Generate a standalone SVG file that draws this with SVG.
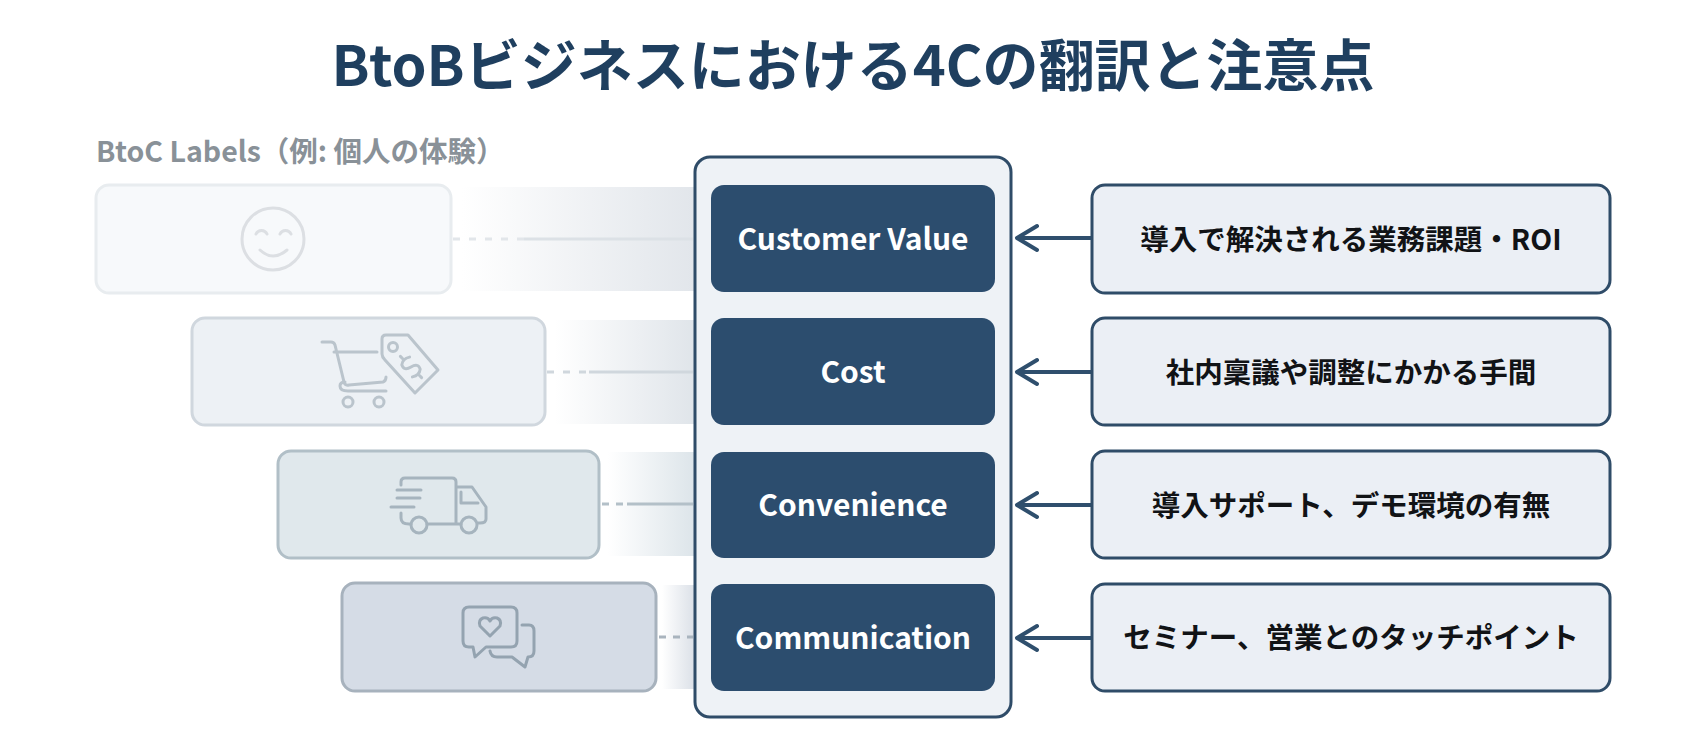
<svg xmlns="http://www.w3.org/2000/svg" width="1706" height="735" viewBox="0 0 1706 735">
<style>
text{font-family:"Noto Sans CJK JP","Noto Sans",sans-serif;font-weight:700;text-anchor:middle}
.title{font-size:56px;fill:#1f3f5f}
.sub{font-size:28.5px;fill:#899198;text-anchor:start;font-weight:700}
.cat{font-size:30px;fill:#fff}
.desc{font-size:28.5px;fill:#111316}
.dark{fill:#2c4d6e}
.right{fill:#ebeff5;stroke:#2f4c68;stroke-width:3}
.ic{fill:none;stroke-linecap:round;stroke-linejoin:round;stroke-width:3}
.arrow{fill:none;stroke:#2f4f6d;stroke-width:4;stroke-linecap:round;stroke-linejoin:round}
</style>
<defs>
<linearGradient id="b1" gradientUnits="userSpaceOnUse" x1="462" x2="694" y1="0" y2="0"><stop offset="0" stop-color="#fff"/><stop offset="1" stop-color="#e2e6eb"/></linearGradient>
<linearGradient id="b2" gradientUnits="userSpaceOnUse" x1="555" x2="694" y1="0" y2="0"><stop offset="0" stop-color="#fff"/><stop offset="1" stop-color="#e0e5ea"/></linearGradient>
<linearGradient id="b3" gradientUnits="userSpaceOnUse" x1="608" x2="694" y1="0" y2="0"><stop offset="0" stop-color="#fff"/><stop offset="1" stop-color="#dde5ea"/></linearGradient>
<linearGradient id="b4" gradientUnits="userSpaceOnUse" x1="662" x2="694" y1="0" y2="0"><stop offset="0" stop-color="#fff"/><stop offset="1" stop-color="#dce1e8"/></linearGradient>
</defs>
<rect width="1706" height="735" fill="#fff"/>
<text id="title" class="title" x="853" y="86">BtoBビジネスにおける4Cの翻訳と注意点</text>
<text id="subtitle" class="sub" x="96" y="162">BtoC Labels（例: 個人の体験）</text>

<g id="bands">
<rect x="462" y="187" width="232" height="104" fill="url(#b1)"/>
<rect x="555" y="320" width="139" height="104" fill="url(#b2)"/>
<rect x="608" y="452" width="86" height="104" fill="url(#b3)"/>
<rect x="662" y="585" width="32" height="104" fill="url(#b4)"/>
</g>

<g id="panel"><rect x="695" y="157" width="316" height="560" rx="15" fill="#eef2f6" stroke="#2f4c68" stroke-width="3"/></g>

<g id="connectors">
<g fill="none" stroke-width="3">
<path d="M453 239H524" stroke="#e2e6ea" stroke-dasharray="7 9"/><path d="M524 239H693" stroke="#dce1e6"/>
<path d="M547 372H589" stroke="#d0d7dd" stroke-dasharray="7 9"/><path d="M589 372H693" stroke="#d0d7dd"/>
<path d="M602 504H627" stroke="#b3c0c8" stroke-dasharray="7 7"/><path d="M627 504H693" stroke="#b3c0c8"/>
<path d="M659 637H693" stroke="#a9b4be" stroke-dasharray="7 7"/>
</g>
<g class="arrow">
<path d="M1091 238H1017M1037 226L1017 238L1037 250"/>
<path d="M1091 372H1017M1037 360L1017 372L1037 384"/>
<path d="M1091 505H1017M1037 493L1017 505L1037 517"/>
<path d="M1091 638H1017M1037 626L1017 638L1037 650"/>
</g>
</g>

<g id="btoc-value">
<rect x="96" y="185" width="355" height="108" rx="13" fill="#f7f9fb" stroke="#e8ecef" stroke-width="3"/>
<g class="ic" stroke="#dcdfe3"><circle cx="273" cy="239" r="31"/><path d="M256 234a6 6 0 0 1 11 0M280 234a6 6 0 0 1 11 0M260 250q13 12 27 0"/></g>
</g>
<g id="btoc-cost">
<rect x="192" y="318" width="353" height="107" rx="13" fill="#edf1f5" stroke="#d0d7de" stroke-width="3"/>
<g class="ic" stroke="#bac4cc"><path d="M322 342H331Q334 342 335 345L344 382Q345 386 349 385L383 382Q386 381 386 377M334 352H377M386 391H348Q340 391 340 386Q340 382 345 382"/><circle cx="348" cy="402" r="5"/><circle cx="379" cy="402" r="5"/>
<path d="M386 335H408L438 370L415 393L385 360Q382 357 382 354V339Q382 335 386 335Z"/><circle cx="393" cy="347" r="4.5"/>
<path d="M6 -8Q0 -12 -5 -8Q-8 -2 0 0Q8 2 5 8Q0 12 -6 8M0 -15V-12M0 12V15" transform="translate(411 367) rotate(-45)"/></g>
</g>
<g id="btoc-convenience">
<rect x="278" y="451" width="321" height="107" rx="13" fill="#e0e8ec" stroke="#b1bfc7" stroke-width="3"/>
<g class="ic" stroke="#a6b4be"><path d="M401 485V482Q401 478 405 478H452Q456 478 456 482V523M456 487H472L486 507V519Q486 523 480 523H478M461 492V503H478M397 490H421M397 498H420M391 507H414M401 513V518Q401 524 409 524H411M427 524H461"/><circle cx="419" cy="525" r="8"/><circle cx="469" cy="525" r="8"/></g>
</g>
<g id="btoc-communication">
<rect x="342" y="583" width="314" height="108" rx="13" fill="#d5dce6" stroke="#a7b2bd" stroke-width="3"/>
<g class="ic" stroke="#94a3b0"><path d="M469 607H511Q517 607 517 613V641Q517 647 511 647H486L475 657L473 647H469Q463 647 463 641V613Q463 607 469 607Z"/><path d="M490 636L480 626Q478 620 483 618Q488 617 490 621Q492 617 497 618Q502 620 500 626Z"/><path d="M522 625H529Q534 625 534 631V651Q534 657 528 657L525 667L512 657H497Q491 657 490 651"/></g>
</g>

<g id="cat-1"><rect class="dark" x="711" y="185" width="284" height="107" rx="13"/><text class="cat" x="853" y="250">Customer Value</text></g>
<g id="cat-2"><rect class="dark" x="711" y="318" width="284" height="107" rx="13"/><text class="cat" x="853" y="383">Cost</text></g>
<g id="cat-3"><rect class="dark" x="711" y="452" width="284" height="106" rx="13"/><text class="cat" x="853" y="516">Convenience</text></g>
<g id="cat-4"><rect class="dark" x="711" y="584" width="284" height="107" rx="13"/><text class="cat" x="853" y="649">Communication</text></g>

<g id="desc-1"><rect class="right" x="1092" y="185" width="518" height="108" rx="13"/><text class="desc" x="1351" y="250">導入で解決される業務課題・ROI</text></g>
<g id="desc-2"><rect class="right" x="1092" y="318" width="518" height="107" rx="13"/><text class="desc" x="1351" y="383">社内稟議や調整にかかる手間</text></g>
<g id="desc-3"><rect class="right" x="1092" y="451" width="518" height="107" rx="13"/><text class="desc" x="1351" y="516">導入サポート、デモ環境の有無</text></g>
<g id="desc-4"><rect class="right" x="1092" y="584" width="518" height="107" rx="13"/><text class="desc" x="1351" y="648">セミナー、営業とのタッチポイント</text></g>
</svg>
